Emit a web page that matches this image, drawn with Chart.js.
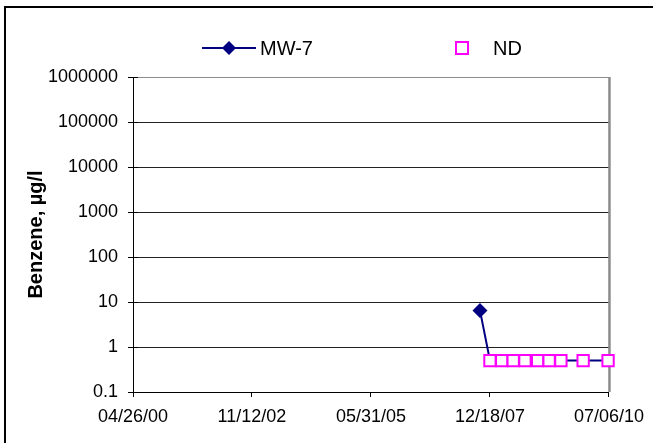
<!DOCTYPE html>
<html>
<head>
<meta charset="utf-8">
<title>Benzene MW-7</title>
<script src="https://cdn.jsdelivr.net/npm/chart.js@4.4.1/dist/chart.umd.min.js"></script>
<style>
    html, body { margin: 0; padding: 0; background: #fff; overflow: hidden; }
    #benzene_chart { display: block; }
</style>
</head>
<body>
<canvas id="benzene_chart" width="653" height="443"></canvas>
<script>
// Sampling dates (mm/dd/yy) and benzene results, ug/l
const sampleDates = ['10/01/07', '12/18/07', '03/19/08', '06/17/08', '09/17/08', '12/25/08', '03/25/09', '06/25/09', '12/16/09', '06/29/10'];
const mw7Values = [6.5, 0.5, 0.5, 0.5, 0.5, 0.5, 0.5, 0.5, 0.5, 0.5];
const ndValues = [null, 0.5, 0.5, 0.5, 0.5, 0.5, 0.5, 0.5, 0.5, 0.5];

// Axis ticks
const xTickLabels = ['04/26/00', '11/12/02', '05/31/05', '12/18/07', '07/06/10'];
const yTickValues = [0.1, 1, 10, 100, 1000, 10000, 100000, 1000000];

const FONT = 'Arial, "Liberation Sans", sans-serif';
const NAVY = '#000080';
const MAGENTA = '#FF00FF';

function dateToDay(s) {
    const p = s.split('/');
    return Date.UTC(2000 + Number(p[2]), Number(p[0]) - 1, Number(p[1])) / 86400000;
}

const xTickDays = xTickLabels.map(dateToDay);
const mw7Points = sampleDates.map((d, i) => ({ x: dateToDay(d), y: mw7Values[i] }));
const ndPoints = sampleDates.map((d, i) => ({ x: dateToDay(d), y: ndValues[i] }));

/**
 * Chart frame, plot border, inner tick marks and legend
 */
const framePlugin = {
    id: 'frame',
    beforeDraw(chart) {
        const ctx = chart.ctx;
        ctx.save();
        ctx.fillStyle = '#fff';
        ctx.fillRect(0, 0, chart.width, chart.height);
        ctx.strokeStyle = '#000';
        ctx.lineWidth = 2;
        ctx.strokeRect(5, 7, chart.width + 20, chart.height + 20);
        ctx.restore();
    },
    beforeDatasetsDraw(chart) {
        const a = chart.chartArea;
        const ctx = chart.ctx;
        ctx.save();
        ctx.strokeStyle = '#8c8c8c';
        ctx.lineWidth = 1;
        ctx.beginPath();
        ctx.moveTo(a.left, a.top + 0.5);
        ctx.lineTo(a.right + 1, a.top + 0.5);
        ctx.stroke();
        ctx.lineWidth = 2.5;
        ctx.beginPath();
        ctx.moveTo(a.right + 0.5, a.top);
        ctx.lineTo(a.right + 0.5, a.bottom);
        ctx.stroke();
        // y tick marks cross the axis
        const yScale = chart.scales.y;
        ctx.strokeStyle = '#000';
        ctx.lineWidth = 1;
        yTickValues.forEach(v => {
            const py = Math.round(yScale.getPixelForValue(v)) + 0.5;
            ctx.beginPath();
            ctx.moveTo(a.left, py);
            ctx.lineTo(a.left + 5, py);
            ctx.stroke();
        });
        ctx.restore();
    },
    afterDraw(chart) {
        const ctx = chart.ctx;
        const y = 48;
        ctx.save();
        // MW-7 entry
        ctx.strokeStyle = NAVY;
        ctx.lineWidth = 2;
        ctx.beginPath();
        ctx.moveTo(202, y);
        ctx.lineTo(256, y);
        ctx.stroke();
        ctx.fillStyle = NAVY;
        ctx.beginPath();
        ctx.moveTo(229 - 7, y);
        ctx.lineTo(229, y - 7);
        ctx.lineTo(229 + 7, y);
        ctx.lineTo(229, y + 7);
        ctx.closePath();
        ctx.fill();
        ctx.fillStyle = '#000';
        ctx.font = '20px ' + FONT;
        ctx.textBaseline = 'middle';
        ctx.fillText('MW-7', 260, y + 1);
        // ND entry
        ctx.strokeStyle = MAGENTA;
        ctx.lineWidth = 2;
        ctx.fillStyle = '#fff';
        ctx.fillRect(456, y - 6, 12, 12);
        ctx.strokeRect(456, y - 6, 12, 12);
        ctx.fillStyle = '#000';
        ctx.fillText('ND', 493, y + 1);
        ctx.restore();
    }
};

const benzeneChart = new Chart(document.getElementById('benzene_chart'), {
    type: 'line',
    data: {
        datasets: [{
            label: 'MW-7',
            data: mw7Points,
            borderColor: NAVY,
            backgroundColor: NAVY,
            borderWidth: 2,
            pointStyle: 'rectRot',
            pointRadius: ndValues.map(v => v === null ? 7.5 : 0),
            pointBorderWidth: 0,
            tension: 0,
            clip: false,
            order: 1
        }, {
            label: 'ND',
            data: ndPoints,
            showLine: false,
            borderColor: MAGENTA,
            backgroundColor: '#fff',
            pointStyle: 'rect',
            pointRadius: 8,
            pointBorderWidth: 2,
            clip: false,
            order: 0
        }]
    },
    options: {
        responsive: false,
        animation: false,
        layout: {
            padding: { top: 77, right: 44, bottom: 0, left: 0 }
        },
        plugins: {
            legend: { display: false },
            tooltip: { enabled: false },
            title: { display: false }
        },
        scales: {
            x: {
                type: 'linear',
                min: xTickDays[0],
                max: xTickDays[xTickDays.length - 1],
                afterBuildTicks: function(scale) {
                    scale.ticks = xTickDays.map(v => ({ value: v }));
                },
                afterFit: function(scale) {
                    scale.height = 51;
                },
                ticks: {
                    autoSkip: false,
                    maxRotation: 0,
                    padding: 9,
                    color: '#000',
                    font: { family: FONT, size: 18 },
                    callback: function(value) {
                        const i = xTickDays.indexOf(value);
                        return i >= 0 ? xTickLabels[i] : '';
                    }
                },
                grid: {
                    drawOnChartArea: false,
                    tickLength: 5,
                    tickColor: '#000'
                },
                border: { color: '#000', width: 1 }
            },
            y: {
                type: 'logarithmic',
                min: 0.1,
                max: 1000000,
                afterBuildTicks: function(scale) {
                    scale.ticks = yTickValues.map(v => ({ value: v }));
                },
                afterFit: function(scale) {
                    scale.width = 133;
                },
                ticks: {
                    padding: 10,
                    color: '#000',
                    font: { family: FONT, size: 18 },
                    callback: function(value) {
                        return String(value);
                    }
                },
                grid: {
                    color: function(context) {
                        return context.tick && context.tick.value === 1000000 ? '#a0a0a0' : '#222';
                    },
                    tickLength: 5,
                    tickColor: '#000'
                },
                border: { color: '#000', width: 1 },
                title: {
                    display: true,
                    text: 'Benzene, µg/l',
                    color: '#000',
                    font: { family: FONT, size: 20, weight: 'bold' },
                    padding: { top: 24, bottom: 0 }
                }
            }
        }
    },
    plugins: [framePlugin]
});
</script>
</body>
</html>
